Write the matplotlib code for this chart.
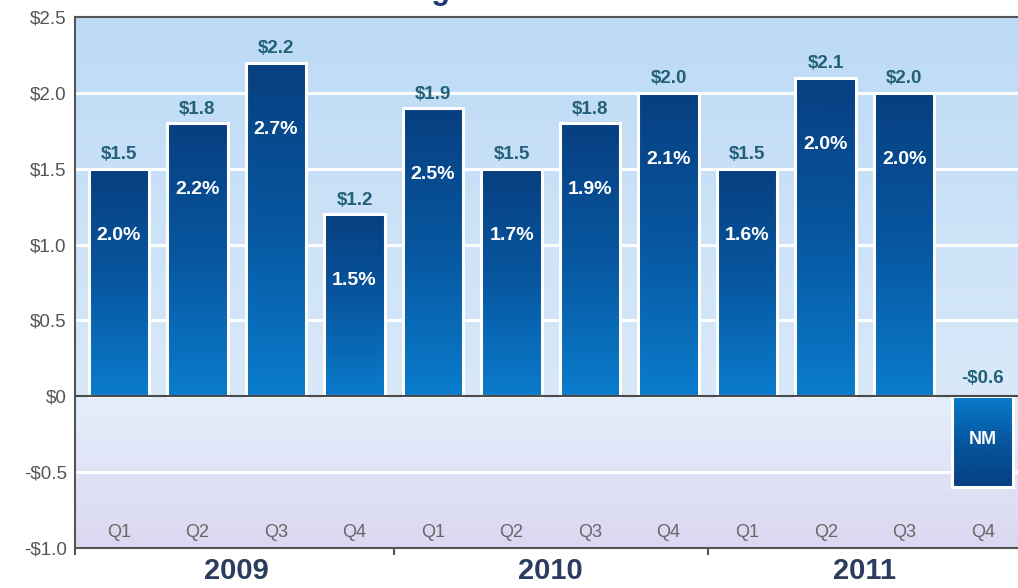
import numpy as np
import matplotlib.pyplot as plt
from matplotlib.colors import LinearSegmentedColormap

plt.rcParams['font.family'] = ['Liberation Sans', 'DejaVu Sans']

# Quarterly segment results, $ billions, with margin labels inside bars
quarters = ["Q1", "Q2", "Q3", "Q4"] * 3
years = ["2009", "2010", "2011"]
values = [1.5, 1.8, 2.2, 1.2, 1.9, 1.5, 1.8, 2.0, 1.5, 2.1, 2.0, -0.6]
value_labels = ["$1.5", "$1.8", "$2.2", "$1.2", "$1.9", "$1.5", "$1.8", "$2.0",
                "$1.5", "$2.1", "$2.0", "-$0.6"]
margin_labels = ["2.0%", "2.2%", "2.7%", "1.5%", "2.5%", "1.7%", "1.9%", "2.1%",
                 "1.6%", "2.0%", "2.0%", "NM"]
yticks = [2.5, 2.0, 1.5, 1.0, 0.5, 0.0, -0.5, -1.0]
ytick_labels = ["$2.5", "$2.0", "$1.5", "$1.0", "$0.5", "$0", "-$0.5", "-$1.0"]

fig = plt.figure(figsize=(10.18, 5.88), dpi=100)
ax = fig.add_axes([0.0737, 0.068, 0.9263, 0.903])

xmin, xmax = -0.56, 11.45
ymin, ymax = -1.0, 2.5
ax.set_xlim(xmin, xmax)
ax.set_ylim(ymin, ymax)

# background: light blue at top fading to lavender at the bottom
bg = LinearSegmentedColormap.from_list(
    "bg", [(0.0, "#dbd8f1"), (0.28, "#e4eefb"), (0.286, "#d9e9f9"), (1.0, "#bcdaf6")])
grad = np.linspace(0, 1, 256).reshape(-1, 1)
ax.imshow(grad, extent=(xmin, xmax, ymin, ymax), origin="lower", aspect="auto",
          cmap=bg, zorder=0)

for y in [-0.5, 0.5, 1.0, 1.5, 2.0]:
    ax.axhline(y, color="white", lw=2.2, zorder=1)

bar_cmap = LinearSegmentedColormap.from_list("bar", ["#0a7ccc", "#0757a0", "#073f80"])
x = np.arange(len(values))
bars = ax.bar(x, values, width=0.77, facecolor="none", edgecolor="white",
              linewidth=2.2, zorder=3)
for bar, v in zip(bars, values):
    x0 = bar.get_x()
    x1 = x0 + bar.get_width()
    g = np.linspace(0, 1, 128).reshape(-1, 1)
    im = ax.imshow(g, extent=(x0, x1, 0, v), origin="lower", aspect="auto",
                   cmap=bar_cmap, zorder=2)
    im.set_clip_path(bar)

ax.axhline(0, color="#4a4a4a", lw=1.5, zorder=4)

for xi, v, vl, ml in zip(x, values, value_labels, margin_labels):
    if v >= 0:
        ax.annotate(vl, (xi, v), xytext=(0, 4), textcoords="offset points",
                    ha="center", va="bottom", fontsize=13.5, fontweight="bold",
                    color="#23607a", zorder=5)
        ax.annotate(ml, (xi, v), xytext=(0, -48), textcoords="offset points",
                    ha="center", va="center", fontsize=14, fontweight="bold",
                    color="white", zorder=5)
    else:
        ax.annotate(vl, (xi, 0), xytext=(0, 13), textcoords="offset points",
                    ha="center", va="center", fontsize=13.5, fontweight="bold",
                    color="#23607a", zorder=5)
        ax.annotate(ml, (xi, 0), xytext=(0, -31), textcoords="offset points",
                    ha="center", va="center", fontsize=13, fontweight="bold",
                    color="white", zorder=5)

# quarter names sit inside the plot just above the bottom axis
for xi, q in zip(x, quarters):
    ax.text(xi, -0.895, q, ha="center", va="center", fontsize=13,
            color="#666666", zorder=5)

ax.set_yticks(yticks)
ax.set_yticklabels(ytick_labels, fontsize=13.5, color="#555555")
ax.tick_params(axis="y", length=0, pad=6)

# year groups below the axis with separator ticks
ax.set_xticks([xmin, 3.5, 7.5])
ax.set_xticklabels([])
ax.tick_params(axis="x", direction="out", length=5, width=1.5, color="#555555")
for i, yr in enumerate(years):
    ax.text(4 * i + 1.5, -1.15, yr, ha="center", va="center", fontsize=21,
            fontweight="bold", color="#2b3d5e", clip_on=False)

for s in ["left", "bottom", "top"]:
    ax.spines[s].set_color("#555555")
    ax.spines[s].set_linewidth(1.5)
ax.spines["right"].set_visible(False)

fig.text(0.535, 1 + 1 / 588, "Segment Net Income", ha="center", va="baseline",
         fontsize=22, fontweight="bold", color="#1a3a78")

fig.savefig("out.png", dpi=100)
